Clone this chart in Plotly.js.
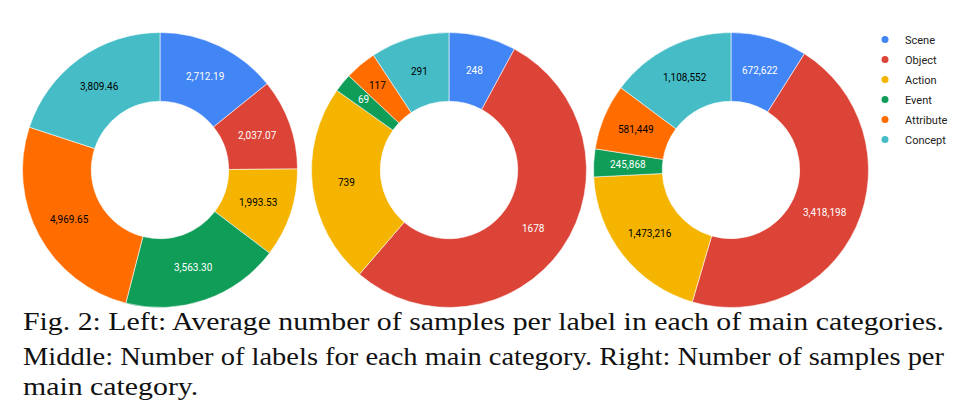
<!DOCTYPE html>
<html>
<head>
<meta charset="utf-8">
<script src="https://cdn.plot.ly/plotly-3.0.1.min.js"></script>
<style>
html,body{margin:0;padding:0;background:#fff;}
#chart{width:963px;height:403px;}
</style>
</head>
<body>
<div id="chart"></div>
<script>
const categories = ["Scene", "Object", "Action", "Event", "Attribute", "Concept"];
const colors = ["#4285F4", "#DB4437", "#F4B400", "#0F9D58", "#FF6D01", "#46BDC6"];
const labelColors = ["#ffffff", "#ffffff", "#000000", "#ffffff", "#000000", "#000000"];
const avgSamplesPerLabel = [2712.19, 2037.07, 1993.53, 3563.30, 4969.65, 3809.46];
const labelsPerCategory = [248, 1678, 739, 69, 117, 291];
const samplesPerCategory = [672622, 3418198, 1473216, 245868, 581449, 1108552];
const captionLines = [
  "Fig. 2: Left: Average number of samples per label in each of main categories.",
  "Middle: Number of labels for each main category. Right: Number of samples per",
  "main category."
];

const W = 963, H = 403, R = 137.5, HOLE = 0.5;
const charts = [
  {values: avgSamplesPerLabel, tmpl: "%{value:,.2f}", fmt: v => v.toLocaleString("en-US", {minimumFractionDigits: 2, maximumFractionDigits: 2}), cx: 160, cy: 170, pushOut: []},
  {values: labelsPerCategory, tmpl: "%{value}", fmt: v => String(v), cx: 449, cy: 170, pushOut: [3, 4]},
  {values: samplesPerCategory, tmpl: "%{value:,}", fmt: v => v.toLocaleString("en-US"), cx: 731, cy: 170, pushOut: []}
];

function dom(cx, cy, r) {
  return {x: [(cx - r) / W, (cx + r) / W], y: [1 - (cy + r) / H, 1 - (cy - r) / H]};
}
const traces = [];
const labelAnns = [];
charts.forEach(ch => {
  traces.push({
    type: "pie", labels: categories, values: ch.values, sort: false,
    direction: "clockwise", rotation: 0, hole: HOLE,
    domain: dom(ch.cx, ch.cy, R), showlegend: false,
    marker: {colors: colors, line: {color: "rgba(255,255,255,0.8)", width: 0.7}},
    texttemplate: ch.tmpl, textposition: "none",
    hoverinfo: "label+value"
  });
  // slice labels at each slice's mid angle, mid ring radius (thin slices a bit further out)
  const total = ch.values.reduce((a, b) => a + b, 0);
  let cum = 0;
  ch.values.forEach((v, i) => {
    const mid = (cum + v / 2) / total * 2 * Math.PI;
    cum += v;
    const r = ch.pushOut.includes(i) ? R * 0.805 : R * (1 + HOLE) / 2;
    labelAnns.push({
      text: ch.fmt(v), xref: "paper", yref: "paper", showarrow: false,
      x: (ch.cx + r * Math.sin(mid)) / W, y: 1 - (ch.cy - r * Math.cos(mid)) / H,
      xanchor: "center", yanchor: "middle",
      font: {family: "Roboto", size: 10, color: labelColors[i]}
    });
  });
});
categories.forEach((c, i) => {
  traces.push({
    type: "scatter", mode: "markers", x: [null], y: [null], name: c,
    marker: {color: colors[i], size: 7, symbol: "circle"},
    showlegend: true, hoverinfo: "skip", legendgroup: c
  });
});

const captionAnns = captionLines.map((t, i) => ({
  text: t, xref: "paper", yref: "paper", x: 21 / W, xanchor: "left", align: "left",
  y: 1 - [321, 356, 386][i] / H, yanchor: "middle", showarrow: false,
  font: {family: "Liberation Serif", size: 25, color: "#111"}
}));

const layout = {
  width: W, height: H, margin: {l: 0, r: 0, t: 0, b: 0},
  paper_bgcolor: "#fff", plot_bgcolor: "#fff",
  font: {family: "Roboto", size: 11, color: "#222"},
  xaxis: {visible: false, domain: [0.99, 1]}, yaxis: {visible: false, domain: [0.99, 1]},
  legend: {x: 865 / W, y: 1 - 25 / H, xanchor: "left", yanchor: "top",
           font: {family: "Roboto", size: 11, color: "#222"}, tracegroupgap: 1,
           bgcolor: "rgba(0,0,0,0)"},
  annotations: captionAnns.concat(labelAnns)
};

Plotly.newPlot("chart", traces, layout, {displayModeBar: false, staticPlot: true}).then(() => {
  const els = document.querySelectorAll(".annotation-text");
  const target = 921;
  const factor = target / els[0].getComputedTextLength();
  [0, 1, 2].forEach(i => {
    const el = els[i];
    const w = el.getComputedTextLength();
    el.setAttribute("textLength", i < 2 ? target : w * factor);
    el.setAttribute("lengthAdjust", "spacingAndGlyphs");
  });
});
</script>
</body>
</html>
